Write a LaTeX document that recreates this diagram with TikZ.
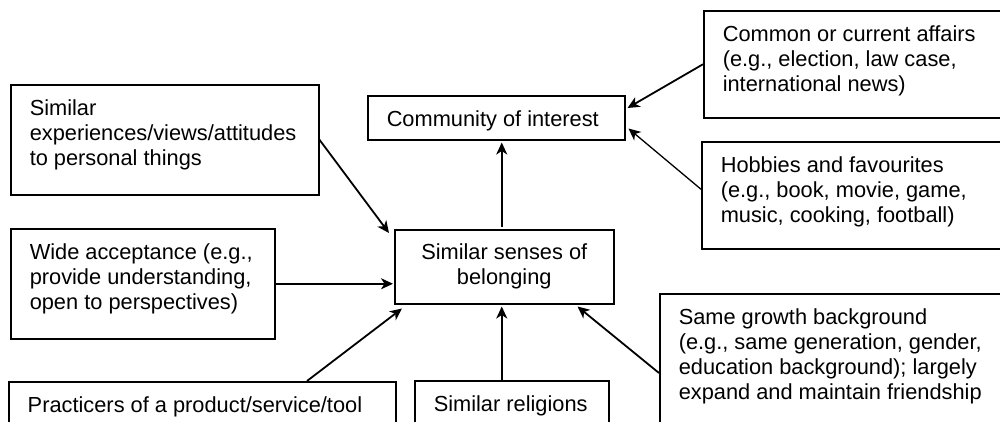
\documentclass[tikz,border=0pt]{standalone}
\usepackage{fontspec}
\setmainfont{Liberation Sans}
\usetikzlibrary{arrows.meta}
\newcommand{\bxl}[3]{\parbox[c][#2][t]{#1}{\leftskip=19pt\rightskip=0pt plus 1fil\parfillskip=0pt plus 1fil\rule{0pt}{31pt}#3}}
\newcommand{\bxc}[3]{\parbox[c][#2][t]{#1}{\centering\rule{0pt}{30pt}#3}}
\tikzset{
  box/.style={draw, line width=1.5pt, inner sep=0pt, anchor=north west, font=\fontsize{21.8pt}{25pt}\selectfont},
  arr/.style={-{Stealth[length=12pt,width=11pt,inset=3.5pt]}, line width=1.8pt},
  thinarr/.style={arr, line width=1.3pt},
}
\begin{document}
\begin{tikzpicture}[x=1pt,y=-1pt]
\useasboundingbox (0,0) rectangle (1000,421);
\clip (0,0) rectangle (1000,421);
\fill[white] (0,0) rectangle (1000,421);
\node[box] (comm) at (367,95) {\bxl{257pt}{44pt}{Community of interest}};
\node[box] (senses) at (394,229) {\bxc{219pt}{74pt}{Similar senses of\\belonging}};
\node[box] (exp) at (10,84) {\bxl{308pt}{110pt}{Similar\\experiences/views/attitudes\\to personal things}};
\node[box] (wide) at (10,228) {\bxl{264pt}{110pt}{Wide acceptance (e.g.,\\provide understanding,\\open to perspectives)}};
\node[box] (prac) at (8,381) {\bxl{387pt}{80pt}{Practicers of a product/service/tool}};
\node[box] (rel) at (414,380) {\bxl{194pt}{80pt}{Similar religions}};
\node[box] (common) at (703,10) {\bxl{360pt}{107pt}{Common or current affairs\\(e.g., election, law case,\\international news)}};
\node[box] (hob) at (701,141) {\bxl{360pt}{107pt}{Hobbies and favourites\\(e.g., book, movie, game,\\music, cooking, football)}};
\node[box] (same) at (659,293) {\bxl{400pt}{200pt}{Same growth background\\(e.g., same generation, gender,\\education background); largely\\expand and maintain friendship}};
\draw[arr] (exp.east) -- ([xshift=-5pt,yshift=-4pt]senses.north west);
\draw[arr, shorten >=1pt] (wide.east) -- (wide.east -| senses.west);
\draw[arr] ([xshift=299pt]prac.north west) -- ([xshift=8pt,yshift=-4pt]senses.south west);
\draw[arr, shorten >=2pt] ([xshift=-2.5pt]senses.south |- rel.north) -- ([xshift=-2.5pt]senses.south);
\draw[arr, shorten >=2pt] ([xshift=-2.5pt,yshift=2pt]senses.north) -- ([xshift=-2.5pt]senses.north |- comm.south);
\draw[arr] ([yshift=-80pt]same.north west) -- ([xshift=-37pt,yshift=-2pt]senses.south east);
\draw[arr] (common.west) -- ([xshift=2pt,yshift=-13pt]comm.north east);
\draw[thinarr] ([yshift=6pt]hob.west) -- ([xshift=3pt,yshift=12pt]comm.south east);
\end{tikzpicture}
\end{document}
